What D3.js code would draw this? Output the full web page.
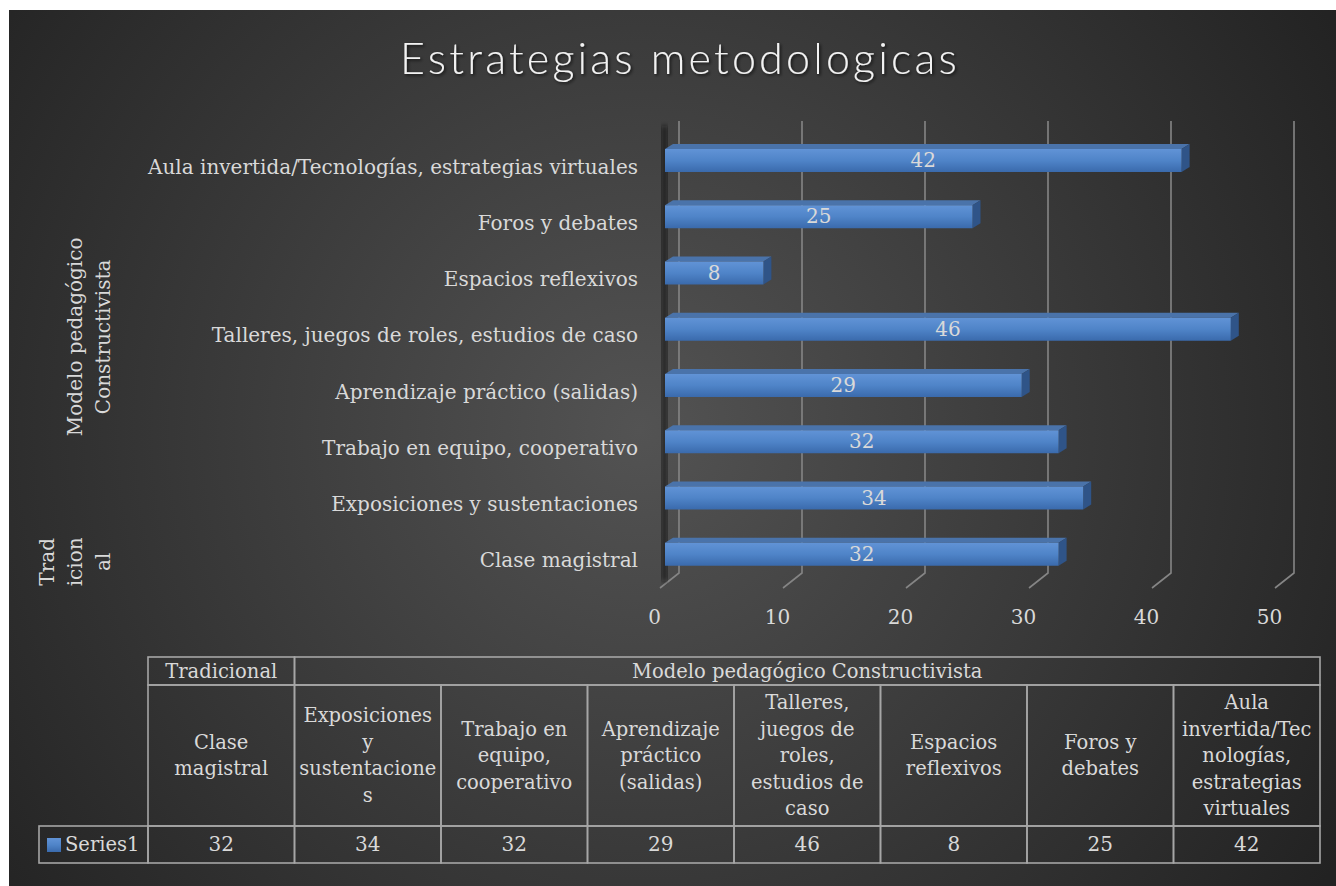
<!DOCTYPE html>
<html lang="es">
<head>
<meta charset="utf-8">
<title>Estrategias metodologicas</title>
<script src="https://d3js.org/d3.v7.min.js"></script>
<style>
  html, body { margin: 0; padding: 0; background: #fff; }
  svg { display: block; }
  .lbl { font-family: "DejaVu Serif", "Liberation Serif", serif; fill: #d9d9d9; }
  .grid { stroke: #858585; stroke-width: 1.6; fill: none; }
  .cell { stroke: #a6a6a6; stroke-width: 1.6; fill: none; }
</style>
</head>
<body>
<script>
// data
var categories = ["Clase magistral", "Exposiciones y sustentaciones", "Trabajo en equipo, cooperativo",
  "Aprendizaje práctico (salidas)", "Talleres, juegos de roles, estudios de caso",
  "Espacios reflexivos", "Foros y debates", "Aula invertida/Tecnologías, estrategias virtuales"];
var values = [32, 34, 32, 29, 46, 8, 25, 42];
var groups = ["Tradicional", "Modelo pedagógico Constructivista"];
var groupSizes = [1, 7];
var groupAxisLines = [["Trad", "icion", "al"], ["Modelo pedagógico", "Constructivista"]];
var tableLabels = [["Clase", "magistral"], ["Exposiciones", "y", "sustentacione", "s"],
  ["Trabajo en", "equipo,", "cooperativo"], ["Aprendizaje", "práctico", "(salidas)"],
  ["Talleres,", "juegos de", "roles,", "estudios de", "caso"], ["Espacios", "reflexivos"],
  ["Foros y", "debates"], ["Aula", "invertida/Tec", "nologías,", "estrategias", "virtuales"]];
var seriesName = "Series1";
var xTicks = [0, 10, 20, 30, 40, 50];

var W = 1336, H = 886, fs = 20, tfs = 19.5;
var svg = d3.select("body").append("svg").attr("width", W).attr("height", H);
var defs = svg.append("defs");

var bg = defs.append("radialGradient").attr("id", "bg")
  .attr("gradientUnits", "userSpaceOnUse")
  .attr("cx", 640).attr("cy", 430).attr("r", 820);
bg.append("stop").attr("offset", "0").attr("stop-color", "#535353");
bg.append("stop").attr("offset", "1").attr("stop-color", "#222");

var front = defs.append("linearGradient").attr("id", "front").attr("x1", 0).attr("y1", 0).attr("x2", 0).attr("y2", 1);
front.append("stop").attr("offset", "0").attr("stop-color", "#6193d6");
front.append("stop").attr("offset", "0.5").attr("stop-color", "#4f84c8");
front.append("stop").attr("offset", "1").attr("stop-color", "#3a6aac");

defs.append("filter").attr("id", "blur").append("feGaussianBlur").attr("stdDeviation", 2.5);
var sh = defs.append("filter").attr("id", "tshadow");
sh.append("feDropShadow").attr("dx", 1.5).attr("dy", 1.5).attr("stdDeviation", 1.5)
  .attr("flood-color", "#000").attr("flood-opacity", 0.7);

svg.append("rect").attr("x", 9).attr("y", 10).attr("width", W - 9).attr("height", H - 10)
  .attr("fill", "url(#bg)");

// title
svg.append("text").attr("x", 680).attr("y", 74).attr("text-anchor", "middle")
  .attr("font-family", "Lato, 'Open Sans', sans-serif").attr("font-weight", 300)
  .attr("font-size", 43).attr("letter-spacing", 3.2).attr("fill", "#f2f2f2")
  .attr("filter", "url(#tshadow)")
  .text("Estrategias metodologicas");

// scales (front floor edge)
var x = d3.scaleLinear().domain([0, 50]).range([660, 1275]);
var y = d3.scaleBand().domain(categories.slice().reverse()).range([140, 590]);
var depth = {dx: 19, dy: -15};
var floorY = 588, wallTop = 121;

// back wall grid + floor diagonals
var grid = svg.append("g");
grid.selectAll("path").data(xTicks).enter().append("path")
  .attr("class", "grid")
  .attr("d", function(d) {
    var bx = x(d) + depth.dx, by = floorY + depth.dy;
    return "M" + bx + "," + wallTop + "L" + bx + "," + by + "L" + x(d) + "," + floorY;
  });

// side wall shadow
svg.append("rect").attr("x", 662).attr("y", 126).attr("width", 5).attr("height", 455)
  .attr("fill", "#111").attr("opacity", 0.8).attr("filter", "url(#blur)");

// bars
var bw = 23, bdx = 8, bdy = -5, offX = 5;
var bars = svg.append("g").selectAll("g").data(categories).enter().append("g");
bars.each(function(c, i) {
  var g = d3.select(this);
  var x0 = x(0) + offX, x1 = x(values[i]) + offX;
  var yt = y(c) + 9, yb = yt + bw;
  g.append("path").attr("fill", "#4a73aa")
    .attr("d", "M" + x0 + "," + yt + "L" + (x0 + bdx) + "," + (yt + bdy) + "L" + (x1 + bdx) + "," + (yt + bdy) + "L" + x1 + "," + yt + "Z");
  g.append("path").attr("fill", "#2f5488")
    .attr("d", "M" + x1 + "," + yt + "L" + (x1 + bdx) + "," + (yt + bdy) + "L" + (x1 + bdx) + "," + (yb + bdy) + "L" + x1 + "," + yb + "Z");
  g.append("rect").attr("x", x0).attr("y", yt).attr("width", x1 - x0).attr("height", bw)
    .attr("fill", "url(#front)");
  g.append("text").attr("class", "lbl").attr("x", (x0 + x1) / 2).attr("y", yt + bw / 2 + 1)
    .attr("text-anchor", "middle").attr("dominant-baseline", "middle")
    .attr("font-size", fs).text(values[i]);
});

// category labels
svg.append("g").selectAll("text").data(categories).enter().append("text")
  .attr("class", "lbl").attr("x", 638).attr("y", function(d) { return y(d) + y.bandwidth() / 2; })
  .attr("text-anchor", "end").attr("dominant-baseline", "middle").attr("font-size", fs)
  .text(function(d) { return d; });

// group labels (rotated)
var gStart = 0;
groupAxisLines.forEach(function(lines, gi) {
  var cats = categories.slice(gStart, gStart + groupSizes[gi]);
  gStart += groupSizes[gi];
  var ys = cats.map(function(c) { return y(c) + y.bandwidth() / 2; });
  var cy = (d3.min(ys) + d3.max(ys)) / 2;
  var n = lines.length;
  lines.forEach(function(t, li) {
    var cx = 104 - (n - 1 - li) * 28;
    svg.append("text").attr("class", "lbl")
      .attr("transform", "translate(" + cx + "," + cy + ") rotate(-90)")
      .attr("text-anchor", "middle").attr("dominant-baseline", "middle")
      .attr("font-size", fs).text(t);
  });
});

// x axis labels
var axis = svg.append("g").attr("transform", "translate(-6," + 610 + ")")
  .call(d3.axisBottom(x).tickValues(xTicks).tickSize(0).tickPadding(0).tickFormat(d3.format("d")));
axis.select(".domain").remove();
axis.selectAll("text").attr("class", "lbl").attr("font-size", fs).attr("fill", null);

// data table
var tx = d3.scaleBand().domain(categories).range([148, 1320]);
var r0 = 657, r1 = 685, r2 = 826, r3 = 863;
var tbl = svg.append("g");
var gs = 0;
groups.forEach(function(gname, gi) {
  var xa = tx(categories[gs]), xb = tx(categories[gs + groupSizes[gi] - 1]) + tx.bandwidth();
  gs += groupSizes[gi];
  tbl.append("rect").attr("class", "cell").attr("x", xa).attr("y", r0).attr("width", xb - xa).attr("height", r1 - r0);
  tbl.append("text").attr("class", "lbl").attr("x", (xa + xb) / 2).attr("y", (r0 + r1) / 2 + 1)
    .attr("text-anchor", "middle").attr("dominant-baseline", "middle").attr("font-size", tfs).text(gname);
});
categories.forEach(function(c, i) {
  var xa = tx(c), w = tx.bandwidth();
  tbl.append("rect").attr("class", "cell").attr("x", xa).attr("y", r1).attr("width", w).attr("height", r2 - r1);
  tbl.append("rect").attr("class", "cell").attr("x", xa).attr("y", r2).attr("width", w).attr("height", r3 - r2);
  var lines = tableLabels[i], lh = 26.5;
  var top = (r1 + r2) / 2 - (lines.length - 1) * lh / 2 + 1;
  lines.forEach(function(t, li) {
    tbl.append("text").attr("class", "lbl").attr("x", xa + w / 2).attr("y", top + li * lh)
      .attr("text-anchor", "middle").attr("dominant-baseline", "middle").attr("font-size", tfs).text(t);
  });
  tbl.append("text").attr("class", "lbl").attr("x", xa + w / 2).attr("y", (r2 + r3) / 2 + 1)
    .attr("text-anchor", "middle").attr("dominant-baseline", "middle").attr("font-size", fs).text(values[i]);
});
// legend cell
tbl.append("rect").attr("class", "cell").attr("x", 39).attr("y", r2).attr("width", 148 - 39).attr("height", r3 - r2);
tbl.append("rect").attr("x", 47).attr("y", 838).attr("width", 14).attr("height", 14).attr("fill", "url(#front)");
tbl.append("text").attr("class", "lbl").attr("x", 65).attr("y", (r2 + r3) / 2 + 1)
  .attr("dominant-baseline", "middle").attr("font-size", tfs).text(seriesName);
</script>
</body>
</html>
